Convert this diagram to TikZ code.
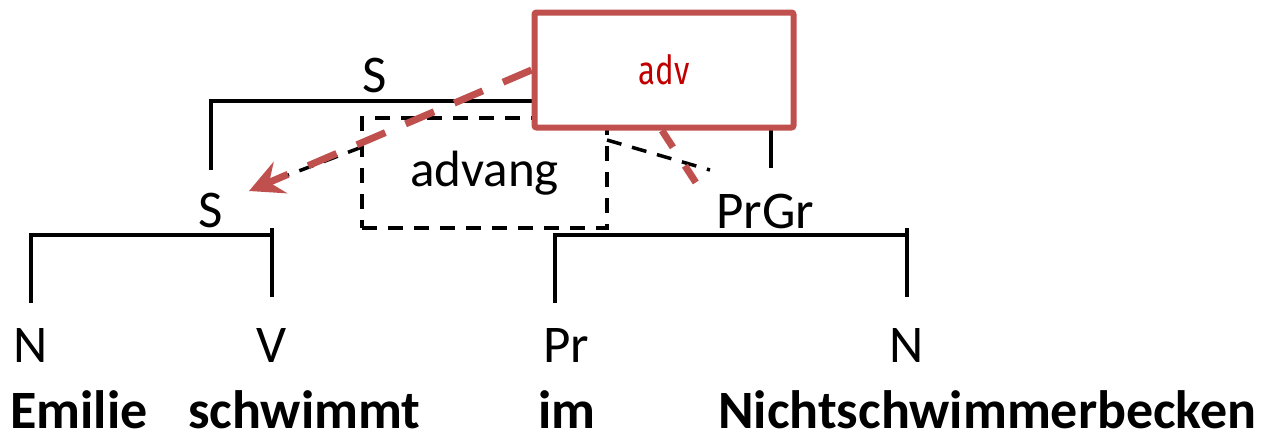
\documentclass[tikz,border=0pt]{standalone}
\usepackage{fontspec}
\setmainfont{Carlito}
\newfontfamily\advfont{Fira Sans}
\usetikzlibrary{arrows.meta}
\definecolor{boxred}{RGB}{192,80,77}
\definecolor{txtred}{RGB}{192,0,0}
\begin{document}
\begin{tikzpicture}[x=1pt,y=-1pt,
  lbl/.style={inner sep=0pt, anchor=base, font=\fontsize{53}{60}\selectfont},
  word/.style={inner sep=0pt, anchor=base west, font=\fontsize{54}{60}\selectfont\bfseries},
  bracket/.style={line width=3.5pt},
  blackdash/.style={line width=3.5pt, dash pattern=on 15pt off 11pt},
  reddash/.style={line width=7pt, boxred, dash pattern=on 31pt off 22pt},
  advbox/.style={draw=boxred, line width=6pt, fill=white, rounded corners=2pt, minimum width=259pt, minimum height=115pt, inner sep=0pt},
  dbox/.style={draw, blackdash, minimum width=245pt, minimum height=110pt, inner sep=0pt, font=\fontsize{51}{60}\selectfont}
]
\useasboundingbox (0,0) rectangle (1274,432);
% labels
\node[lbl] (Stop) at (375,92) {S};
\node[lbl] (Slow) at (211,227) {S};
\node[lbl] (PrGr) at (765,228) {PrGr};
\node[lbl] (N1) at (31,362) {N};
\node[lbl] (V) at (272,362) {V};
\node[lbl] (Pr) at (566,362) {Pr};
\node[lbl] (N2) at (907,362) {N};
% words
\node[word] (w1) at (10,428) {Emilie};
\node[word] (w2) at (188,428) {schwimmt};
\node[word] (w3) at (538,428) {im};
\node[word] (w4) at (718,428) {Nichtschwimmerbecken};
% brackets
\coordinate (sl) at (211,170); \coordinate (slt) at (211,101);
\coordinate (sr) at (771,168); \coordinate (srt) at (771,101);
\draw[bracket] (sl) -- (slt) -- (srt) -- (sr);
\coordinate (al) at (31,303); \coordinate (alt) at (31,235); \coordinate (art) at (272,235);
\coordinate (ar1) at (272,228); \coordinate (ar2) at (272,297);
\draw[bracket] (al) -- (alt) -- (art);
\draw[bracket] (ar1) -- (ar2);
\coordinate (bl) at (555,303); \coordinate (blt) at (555,235); \coordinate (brt) at (907,235);
\coordinate (br1) at (907,228); \coordinate (br2) at (907,297);
\draw[bracket] (bl) -- (blt) -- (brt);
\draw[bracket] (br1) -- (br2);
% advang box
\node[dbox] (adv) at (484.5,173) {advang};
\coordinate (advL) at (362,147);
\coordinate (advR) at (607,140);
\coordinate (sT) at (275,180);
\coordinate (pT) at (710,170);
\draw[blackdash] (advL) -- (sT);
\draw[blackdash] (advR) -- (pT);
% red box
\node[advbox] (A) at (664,70) {\advfont\color{txtred}\scalebox{0.78}[1]{\fontsize{40}{46}\selectfont adv}};
\coordinate (arrTip) at (249,191);
\coordinate (redEnd) at (702,192);
\draw[reddash, -{Stealth[length=34pt,width=34pt,inset=12pt]}] (A.west) -- (arrTip);
\draw[reddash, dash pattern=on 20pt off 22pt] (A.south) ++(-2,0) -- (redEnd);
\end{tikzpicture}
\end{document}
